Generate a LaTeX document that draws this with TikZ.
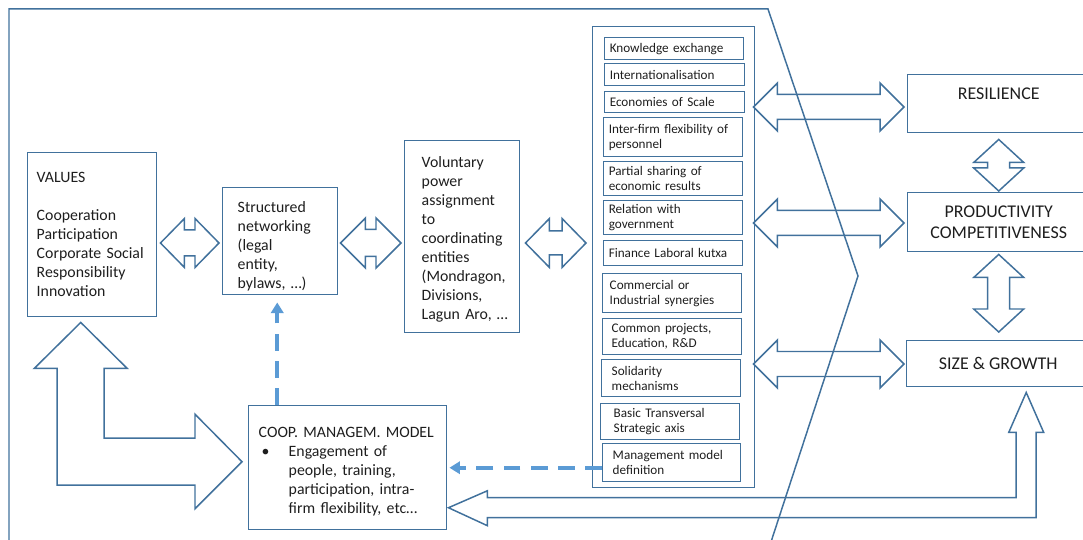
\documentclass[tikz,border=0pt]{standalone}
\usepackage{fontspec}
\setmainfont{Carlito}
\usepackage{tikz}
\usetikzlibrary{calc, arrows.meta}
\definecolor{boxblue}{HTML}{41719C}
\definecolor{linkblue}{HTML}{5B9BD5}
\definecolor{txt}{HTML}{1E1E1E}
\hyphenpenalty=10000
\exhyphenpenalty=10000
\tikzset{kasten/.style={draw=boxblue, line width=0.85pt, text=txt, inner sep=0pt, anchor=north west, align=left, font=\fontsize{9}{10.8}\selectfont},
	eintrag/.style={kasten, font=\fontsize{7.5}{8.6}\selectfont},
	ziel/.style={kasten, align=center, font=\fontsize{10.2}{11.9}\selectfont},
	linie/.style={draw=boxblue, line width=0.85pt, line join=miter},
	strich/.style={draw=linkblue, line width=2.3pt, dash pattern=on 9.5pt off 6pt, -{Triangle[length=6pt, width=7pt]}} }

% Blockpfeile: #1 Spitze, #2 Spitze, #3 Kopftiefe, #4 halbe Kopfbreite, #5 halbe Schaftbreite
\newcommand{\hpfeil}[5]{\draw[linie] (#1) -- ++(#3,-#4) -- ++(0,#4-#5) -- ($(#2)+(-#3,-#5)$) -- ++(0,#5-#4) -- (#2) -- ++(-#3,#4) -- ++(0,#5-#4) -- ($(#1)+(#3,#5)$) -- ++(0,#4-#5) -- cycle;}
\newcommand{\vpfeil}[5]{\draw[linie] (#1) -- ++(#4,#3) -- ++(#5-#4,0) -- ($(#2)+(#5,-#3)$) -- ++(#4-#5,0) -- (#2) -- ++(-#4,-#3) -- ++(#4-#5,0) -- ($(#1)+(-#5,#3)$) -- ++(#5-#4,0) -- cycle;}

\begin{document}
\begin{tikzpicture}[x=0.02cm, y=-0.02cm]
	\useasboundingbox (0,0) rectangle (1083,540);
	\clip (0,0) rectangle (1083,540);

	% linke Seite
	\node (val) [kasten, minimum width=2.58cm, minimum height=3.28cm, text width=2.22cm] at (27,152) {VALUES\\[10.8pt]Cooperation\\Participation\\Corporate~Social\\Responsibility\\Innovation\\[3pt]};
	\node (net) [kasten, minimum width=2.3cm, minimum height=2.14cm, text width=1.7cm] at (222,187) {\rule{0pt}{12pt}Structured\\networking\\(legal\\entity,\\bylaws,~…)};
	\node (pow) [kasten, minimum width=2.3cm, minimum height=3.84cm, text width=1.62cm] at (404,140) {\rule{0pt}{9pt}Voluntary\\power\\assignment\\to\\coordinating\\entities\\(Mondragon,\\Divisions,\\Lagun~Aro,~…};
	\node (coop) [kasten, minimum width=3.96cm, minimum height=2.48cm, text width=3.56cm] at (248,405) {\rule{0pt}{10pt}COOP.~MANAGEM.~MODEL\\
		\makebox[0.6cm][l]{\hspace{0.06cm}\textbullet}Engagement of\\
		\hspace*{0.6cm}people, training,\\
		\hspace*{0.6cm}participation,~intra-\\
		\hspace*{0.6cm}firm flexibility, etc…};

	% Spalte
	\node (col) [kasten, minimum width=3.24cm, minimum height=9.22cm] at (592,26) {};
	\node (e1) [eintrag, minimum width=2.78cm, minimum height=0.44cm, text width=2.58cm] at (604,37) {Knowledge exchange};
	\node (e2) [eintrag, minimum width=2.8cm, minimum height=0.44cm, text width=2.6cm] at (604,63) {Internationalisation};
	\node (e3) [eintrag, minimum width=2.8cm, minimum height=0.42cm, text width=2.6cm] at (604,91) {Economies of Scale};
	\node (e4) [eintrag, minimum width=2.78cm, minimum height=0.78cm, text width=2.58cm] at (603,117) {Inter-firm~flexibility~of\\personnel};
	\node (e5) [eintrag, minimum width=2.78cm, minimum height=0.68cm, text width=2.58cm] at (603,161) {Partial sharing of\\economic results};
	\node (e6) [eintrag, minimum width=2.78cm, minimum height=0.68cm, text width=2.58cm] at (603,200) {Relation with\\government};
	\node (e7) [eintrag, minimum width=2.78cm, minimum height=0.5cm, text width=2.58cm] at (603,240) {Finance Laboral kutxa};
	\node (e8) [eintrag, minimum width=2.78cm, minimum height=0.78cm, text width=2.5cm] at (602,273) {Commercial or\\Industrial synergies};
	\node (e9) [eintrag, minimum width=2.78cm, minimum height=0.72cm, text width=2.42cm] at (602,318) {Common projects,\\Education, R\&D};
	\node (e10) [eintrag, minimum width=2.78cm, minimum height=0.74cm, text width=2.38cm] at (601,359) {Solidarity\\mechanisms};
	\node (e11) [eintrag, minimum width=2.78cm, minimum height=0.72cm, text width=2.26cm] at (600,403) {Basic Transversal\\Strategic axis};
	\node (e12) [eintrag, minimum width=2.76cm, minimum height=0.76cm, text width=2.36cm] at (602,443) {Management model\\definition};

	% rechte Seite
	\node (res) [ziel, minimum width=3.64cm, minimum height=1.16cm] at (907,74) {RESILIENCE\\\mbox{}};
	\node (prod) [ziel, minimum width=3.64cm, minimum height=1.18cm] at (907,192) {PRODUCTIVITY\\COMPETITIVENESS};
	\node (size) [ziel, minimum width=3.66cm, minimum height=0.92cm] at (906,340) {SIZE \& GROWTH};

	% Rahmen
	\draw[linie] (9,545) -- (9,9) -- (768,9) -- (858,276) -- (770,545);

	% waagrechte Doppelpfeile
	\coordinate (z1) at (0,243);
	\coordinate (p1) at ($(val.east |- z1)+(3,0)$);
	\coordinate (p2) at ($(net.west |- z1)+(-3,0)$);
	\coordinate (p3) at ($(net.east |- z1)+(2,0)$);
	\coordinate (p4) at ($(pow.west |- z1)+(-3,0)$);
	\coordinate (p5) at ($(pow.east |- z1)+(5,0)$);
	\coordinate (p6) at ($(col.west |- z1)+(-6,0)$);
	\hpfeil{p1}{p2}{24}{24.5}{13}
	\hpfeil{p3}{p4}{25}{25}{13.5}
	\hpfeil{p5}{p6}{24}{24.5}{12}

	\coordinate (z2) at (0,107);
	\coordinate (z3) at (0,223);
	\coordinate (z4) at (0,364);
	\coordinate (r1) at ($(col.east |- z2)+(-2,0)$);
	\coordinate (r2) at ($(res.west |- z2)+(-3,0)$);
	\coordinate (r3) at ($(col.east |- z3)+(-2,0)$);
	\coordinate (r4) at ($(prod.west |- z3)+(-3,0)$);
	\coordinate (r5) at ($(col.east |- z4)+(-2,0)$);
	\coordinate (r6) at ($(size.west |- z4)+(-2,0)$);
	\hpfeil{r1}{r2}{24}{24}{12.5}
	\hpfeil{r3}{r4}{24}{24}{12.5}
	\hpfeil{r5}{r6}{24}{24}{12.5}

	% senkrechte Doppelpfeile
	\coordinate (s1) at ($(res.south)+(0,6)$);
	\coordinate (s2) at ($(prod.north)+(0,-1)$);
	\coordinate (s3) at ($(prod.south)+(0,2)$);
	\coordinate (s4) at ($(prod.south |- size.north)+(0,-8)$);
	\vpfeil{s1}{s2}{23}{25}{11}
	\vpfeil{s3}{s4}{23}{25}{11}

	% Winkelpfeil VALUES - COOP
	\coordinate (q1) at ($(val.south)+(-11.5,5)$);
	\coordinate (q2) at ($(coop.west)+(-6,-6)$);
	\draw[linie] (q1) -- ++(46.5,46) -- ++(-23,0) |- ($(q2)+(-47,-23.5)$) -- ++(0,-24) -- (q2) -- ++(-47,47) -- ++(0,-23.5) -| ($(q1)+(-23.5,46)$) -- ++(-23,0) -- cycle;

	% Rueckpfeil SIZE - COOP
	\coordinate (q3) at ($(size.south)+(28,5)$);
	\coordinate (q4) at ($(coop.east)+(1,40)$);
	\draw[linie] (q3) -- ++(17.5,40) -- ++(-7.5,0) |- ($(q4)+(39,10)$) -- ++(0,8) -- (q4) -- ++(39,-17) -- ++(0,7) -| ($(q3)+(-10,40)$) -- ++(-7.5,0) -- cycle;

	% gestrichelte Pfeile
	\coordinate (d1) at ($(net.south)+(-3,7)$);
	\draw[strich] (coop.north -| d1) -- (d1);
	\coordinate (d2) at ($(coop.east)+(2,0)$);
	\draw[strich] (e12.west |- d2) -- (d2);
\end{tikzpicture}
\end{document}
